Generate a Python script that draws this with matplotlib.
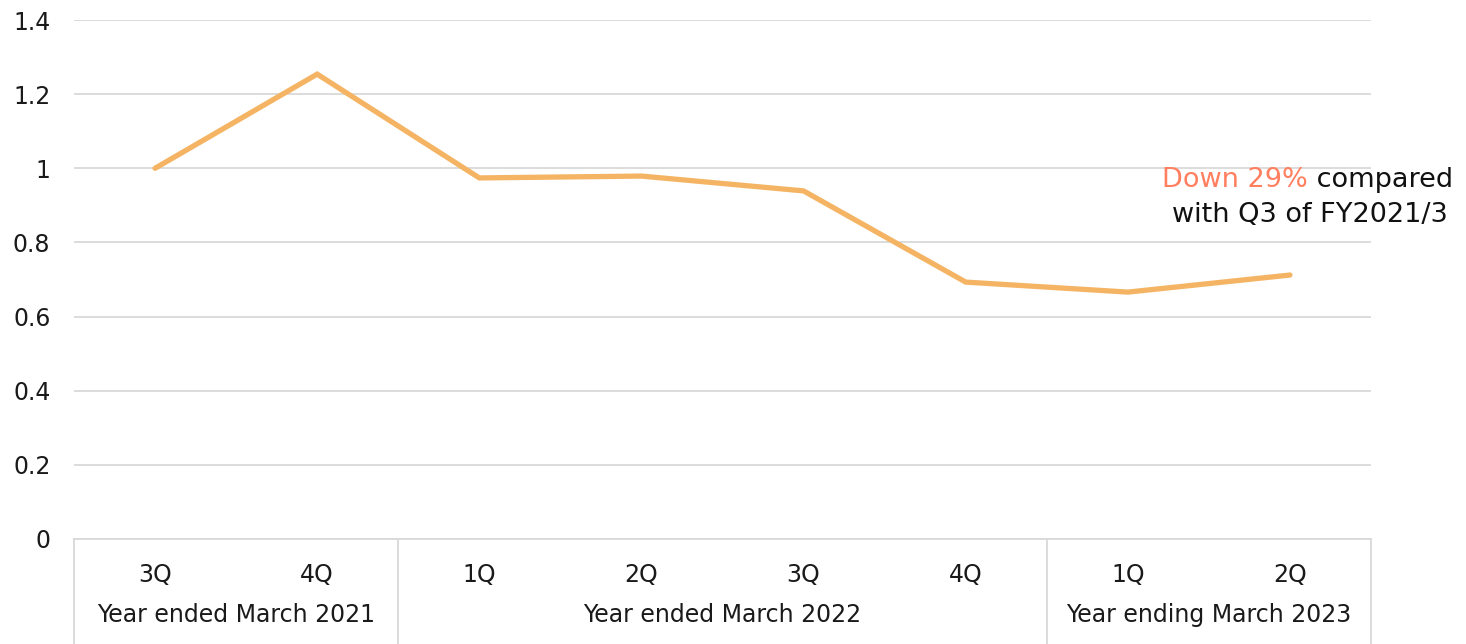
import matplotlib
matplotlib.use("Agg")
import matplotlib.pyplot as plt
import matplotlib.transforms as mtransforms
from matplotlib.lines import Line2D

# Quarterly index values (Q3 of FY2021/3 = 1)
quarters = ["3Q", "4Q", "1Q", "2Q", "3Q", "4Q", "1Q", "2Q"]
values = [1.0, 1.254, 0.974, 0.979, 0.939, 0.693, 0.666, 0.712]
groups = ["Year ended March 2021", "Year ended March 2022", "Year ending March 2023"]
group_sizes = [2, 4, 2]
yticks = [0, 0.2, 0.4, 0.6, 0.8, 1.0, 1.2, 1.4]
ytick_labels = ["0", "0.2", "0.4", "0.6", "0.8", "1", "1.2", "1.4"]

plt.rcParams["font.family"] = ["DejaVu Sans"]
W, H = 1466, 644
AX_FS = 17
NOTE_FS = 19.5
TEXT_COLOR = "#1A1A1A"
fig = plt.figure(figsize=(W / 100, H / 100), dpi=100)
left, right, top, bottom = 74, 1371, 20, 539
ax = fig.add_axes([left / W, (H - bottom) / H, (right - left) / W, (bottom - top) / H])

x = list(range(len(values)))
ax.plot(x, values, color="#F4B463", lw=3.8, solid_joinstyle="miter",
        solid_capstyle="round", zorder=3)

ax.set_xlim(-0.5, len(values) - 0.5)
ax.set_ylim(0, 1.4)
ax.set_yticks(yticks)
ax.set_yticklabels(ytick_labels, fontsize=AX_FS, color=TEXT_COLOR)
ax.yaxis.grid(True, color="#D9D9D9", lw=1.3)
ax.set_axisbelow(True)
for s in ["left", "right", "top"]:
    ax.spines[s].set_visible(False)
ax.spines["bottom"].set_color("#D9D9D9")
ax.spines["bottom"].set_linewidth(1.3)
ax.tick_params(axis="y", length=0, pad=17)
ax.tick_params(axis="x", length=0)
ax.set_xticks([])

# Category axis: quarter labels, fiscal-year group labels and separators
trans = mtransforms.blended_transform_factory(ax.transData, ax.transAxes)
ax_h = bottom - top


def ay(py):
    return -(py - bottom) / ax_h


for i, q in enumerate(quarters):
    ax.text(i, ay(575), q, transform=trans, ha="center", va="center",
            fontsize=AX_FS, color=TEXT_COLOR)

start = 0
bounds = [-0.5]
for g, n in zip(groups, group_sizes):
    ax.text(start + (n - 1) / 2, ay(615), g, transform=trans, ha="center",
            va="center", fontsize=AX_FS, color=TEXT_COLOR)
    start += n
    bounds.append(start - 0.5)

for b in bounds:
    ax.add_line(Line2D([b, b], [0, ay(H + 2)], transform=trans, color="#D9D9D9",
                       lw=1.3, clip_on=False))

# Annotation on the latest quarter
change = round((values[-1] / values[0] - 1) * 100)
t1 = fig.text(1453 / W, 1 - 180 / H, " compared", ha="right", va="center",
              fontsize=NOTE_FS, color="#111111")
fig.text(1448 / W, 1 - 215 / H, "with Q3 of FY2021/3", ha="right", va="center",
         fontsize=NOTE_FS, color="#111111")
fig.canvas.draw()
bb = t1.get_window_extent()
fig.text(bb.x0 / W, 1 - 180 / H, f"Down {abs(change)}%", ha="right", va="center",
         fontsize=NOTE_FS, color="#FF7F5F")

fig.savefig("out.png", dpi=100)
